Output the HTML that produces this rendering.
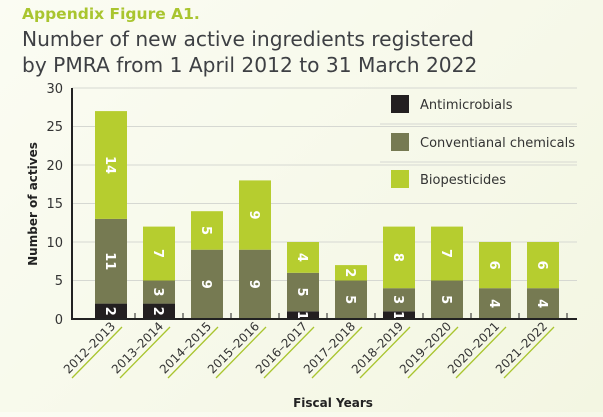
<!DOCTYPE html>
<html><head><meta charset="utf-8"><style>
html,body{margin:0;padding:0;}
body{width:603px;height:412px;overflow:hidden;background:linear-gradient(135deg,#fbfcf3 0%,#f3f6e2 100%);}
</style></head><body>
<svg width="603" height="412" xmlns="http://www.w3.org/2000/svg" font-family="'DejaVu Sans','Liberation Sans',sans-serif">
<text x="22" y="19" font-size="15.5" font-weight="bold" fill="#a9c52f">Appendix Figure A1.</text>
<text x="22" y="46" font-size="20.2" fill="#3e4044">Number of new active ingredients registered</text>
<text x="22" y="72" font-size="20.2" fill="#3e4044">by PMRA from 1 April 2012 to 31 March 2022</text>
<g stroke="#d6d8d2" stroke-width="1">
<line x1="72" y1="88" x2="577" y2="88"/><line x1="72" y1="126.5" x2="577" y2="126.5"/>
<line x1="72" y1="165" x2="577" y2="165"/><line x1="72" y1="203.5" x2="577" y2="203.5"/>
<line x1="72" y1="242" x2="577" y2="242"/><line x1="72" y1="280.5" x2="577" y2="280.5"/>
</g>
<g font-size="13" fill="#333" text-anchor="end">
<text x="63" y="93">30</text><text x="63" y="131">25</text><text x="63" y="170">20</text>
<text x="63" y="208">15</text><text x="63" y="247">10</text><text x="63" y="285">5</text><text x="63" y="324">0</text>
</g>
<text transform="translate(37,204) rotate(-90)" font-size="12" font-weight="bold" fill="#222" text-anchor="middle">Number of actives</text>

<g>
<rect x="95" y="303.6" width="32" height="15.4" fill="#231f20"/>
<rect x="95" y="218.9" width="32" height="84.7" fill="#767a52"/>
<rect x="95" y="111.1" width="32" height="107.8" fill="#b6cd2f"/>
<rect x="143" y="303.6" width="32" height="15.4" fill="#231f20"/>
<rect x="143" y="280.5" width="32" height="23.1" fill="#767a52"/>
<rect x="143" y="226.6" width="32" height="53.9" fill="#b6cd2f"/>
<rect x="191" y="249.7" width="32" height="69.3" fill="#767a52"/>
<rect x="191" y="211.2" width="32" height="38.5" fill="#b6cd2f"/>
<rect x="239" y="249.7" width="32" height="69.3" fill="#767a52"/>
<rect x="239" y="180.4" width="32" height="69.3" fill="#b6cd2f"/>
<rect x="287" y="311.3" width="32" height="7.7" fill="#231f20"/>
<rect x="287" y="272.8" width="32" height="38.5" fill="#767a52"/>
<rect x="287" y="242" width="32" height="30.8" fill="#b6cd2f"/>
<rect x="335" y="280.5" width="32" height="38.5" fill="#767a52"/>
<rect x="335" y="265.1" width="32" height="15.4" fill="#b6cd2f"/>
<rect x="383" y="311.3" width="32" height="7.7" fill="#231f20"/>
<rect x="383" y="288.2" width="32" height="23.1" fill="#767a52"/>
<rect x="383" y="226.6" width="32" height="61.6" fill="#b6cd2f"/>
<rect x="431" y="280.5" width="32" height="38.5" fill="#767a52"/>
<rect x="431" y="226.6" width="32" height="53.9" fill="#b6cd2f"/>
<rect x="479" y="288.2" width="32" height="30.8" fill="#767a52"/>
<rect x="479" y="242" width="32" height="46.2" fill="#b6cd2f"/>
<rect x="527" y="288.2" width="32" height="30.8" fill="#767a52"/>
<rect x="527" y="242" width="32" height="46.2" fill="#b6cd2f"/>
</g>
<g font-size="13" font-weight="bold" fill="#fff" text-anchor="middle">
<text transform="translate(111,311.3) rotate(90)" dy="5">2</text>
<text transform="translate(111,261.3) rotate(90)" dy="5">11</text>
<text transform="translate(111,165) rotate(90)" dy="5">14</text>
<text transform="translate(159,311.3) rotate(90)" dy="5">2</text>
<text transform="translate(159,292) rotate(90)" dy="5">3</text>
<text transform="translate(159,253.5) rotate(90)" dy="5">7</text>
<text transform="translate(207,284.3) rotate(90)" dy="5">9</text>
<text transform="translate(207,230.5) rotate(90)" dy="5">5</text>
<text transform="translate(255,284.3) rotate(90)" dy="5">9</text>
<text transform="translate(255,215) rotate(90)" dy="5">9</text>
<text transform="translate(303,315.5) rotate(90)" dy="5">1</text>
<text transform="translate(303,292) rotate(90)" dy="5">5</text>
<text transform="translate(303,257.4) rotate(90)" dy="5">4</text>
<text transform="translate(351,299.7) rotate(90)" dy="5">5</text>
<text transform="translate(351,272.8) rotate(90)" dy="5">2</text>
<text transform="translate(399,315.5) rotate(90)" dy="5">1</text>
<text transform="translate(399,299.7) rotate(90)" dy="5">3</text>
<text transform="translate(399,257.4) rotate(90)" dy="5">8</text>
<text transform="translate(447,299.7) rotate(90)" dy="5">5</text>
<text transform="translate(447,253.5) rotate(90)" dy="5">7</text>
<text transform="translate(495,303.6) rotate(90)" dy="5">4</text>
<text transform="translate(495,265.1) rotate(90)" dy="5">6</text>
<text transform="translate(543,303.6) rotate(90)" dy="5">4</text>
<text transform="translate(543,265.1) rotate(90)" dy="5">6</text>
</g>
<g stroke="#222">
<line x1="135" y1="319" x2="135" y2="313"/><line x1="183" y1="319" x2="183" y2="313"/>
<line x1="231" y1="319" x2="231" y2="313"/><line x1="279" y1="319" x2="279" y2="313"/>
<line x1="327" y1="319" x2="327" y2="313"/><line x1="375" y1="319" x2="375" y2="313"/>
<line x1="423" y1="319" x2="423" y2="313"/><line x1="471" y1="319" x2="471" y2="313"/>
<line x1="519" y1="319" x2="519" y2="313"/><line x1="567" y1="319" x2="567" y2="313"/>
</g>
<g font-size="12" fill="#333" text-anchor="end">
<text transform="translate(116,327) rotate(-45)">2012–2013</text>
<text transform="translate(164,327) rotate(-45)">2013–2014</text>
<text transform="translate(212,327) rotate(-45)">2014–2015</text>
<text transform="translate(260,327) rotate(-45)">2015–2016</text>
<text transform="translate(308,327) rotate(-45)">2016–2017</text>
<text transform="translate(356,327) rotate(-45)">2017–2018</text>
<text transform="translate(404,327) rotate(-45)">2018–2019</text>
<text transform="translate(452,327) rotate(-45)">2019–2020</text>
<text transform="translate(500,327) rotate(-45)">2020–2021</text>
<text transform="translate(548,327) rotate(-45)">2021–2022</text>
</g>
<g stroke="#a9c52f" stroke-width="1.3">
<line x1="122" y1="327" x2="72" y2="378"/><line x1="170" y1="327" x2="120" y2="378"/>
<line x1="218" y1="327" x2="168" y2="378"/><line x1="266" y1="327" x2="216" y2="378"/>
<line x1="314" y1="327" x2="264" y2="378"/><line x1="362" y1="327" x2="312" y2="378"/>
<line x1="410" y1="327" x2="360" y2="378"/><line x1="458" y1="327" x2="408" y2="378"/>
<line x1="506" y1="327" x2="456" y2="378"/><line x1="554" y1="327" x2="504" y2="378"/>
</g>
<line x1="72" y1="88" x2="72" y2="320" stroke="#222" stroke-width="2"/>
<line x1="71" y1="319" x2="577" y2="319" stroke="#222" stroke-width="2"/>
<rect x="391" y="95" width="18" height="18" fill="#231f20"/>
<rect x="391" y="133" width="18" height="18" fill="#767a52"/>
<rect x="391" y="170" width="18" height="18" fill="#b6cd2f"/>
<g stroke="#d6d8d2"><line x1="380" y1="124" x2="577" y2="124"/><line x1="380" y1="162" x2="577" y2="162"/></g>
<g font-size="13" fill="#333"><text x="420" y="109">Antimicrobials</text><text x="420" y="147">Conventianal chemicals</text><text x="420" y="184">Biopesticides</text></g>
<text x="333" y="407" font-size="12" font-weight="bold" fill="#222" text-anchor="middle">Fiscal Years</text>
</svg>
</body></html>
